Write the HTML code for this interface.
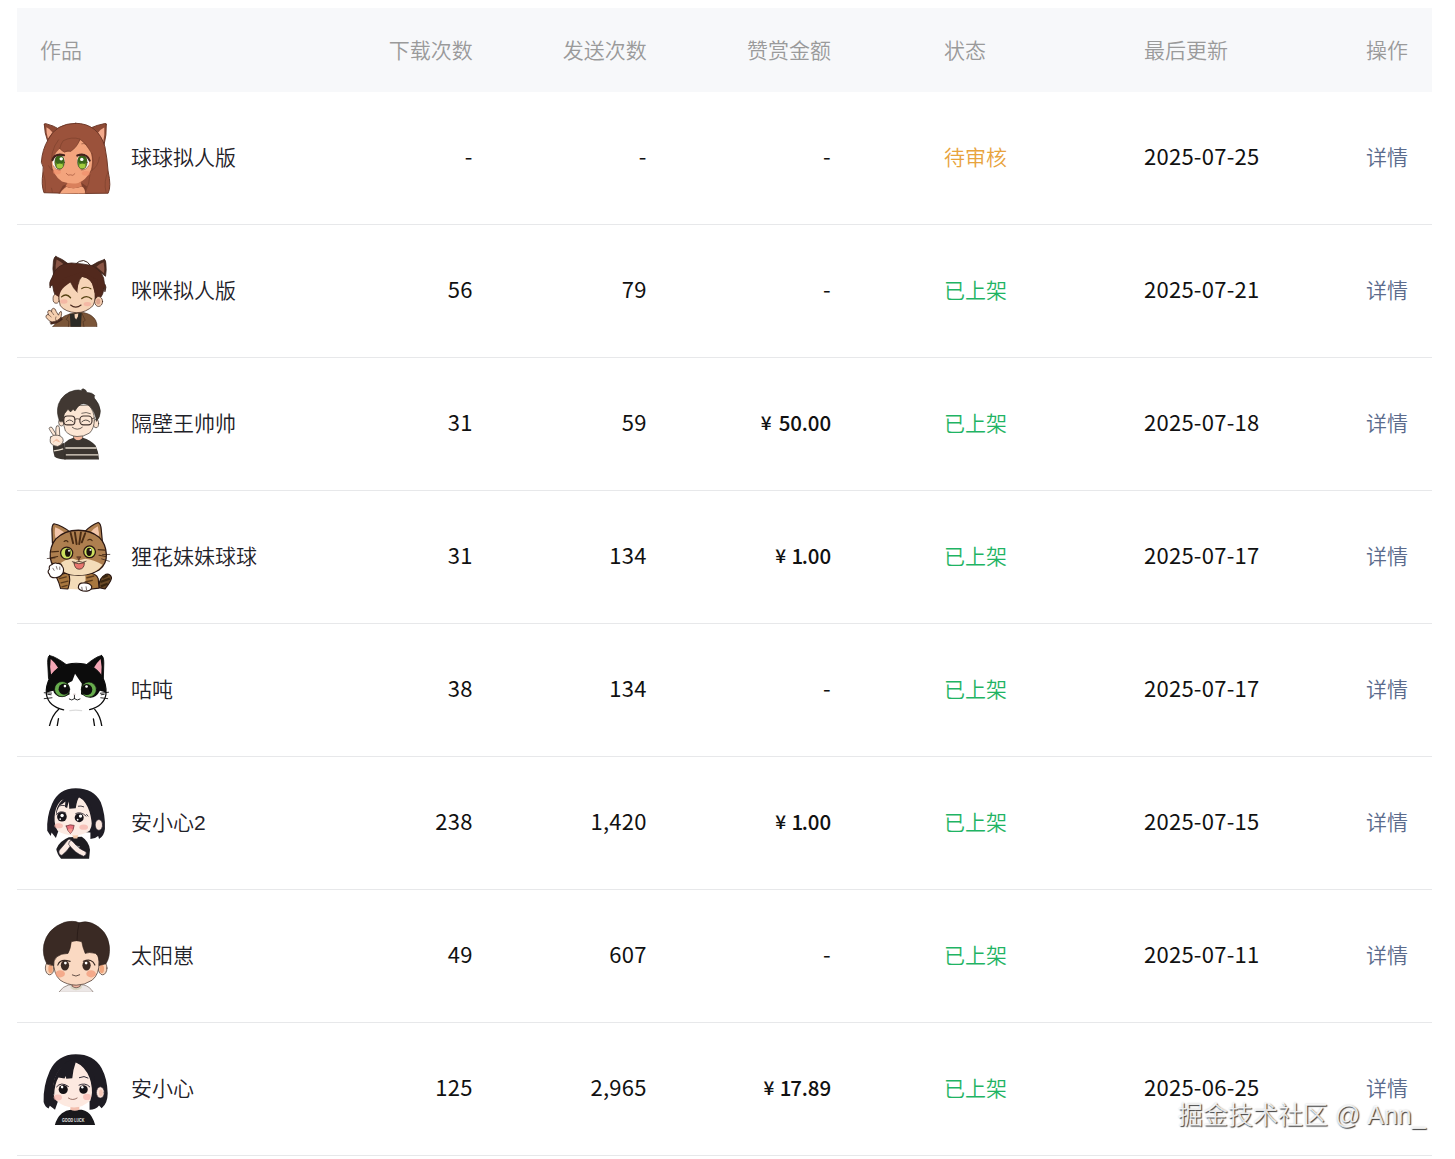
<!DOCTYPE html>
<html lang="zh-CN">
<head>
<meta charset="utf-8">
<title>作品列表</title>
<style>
html,body{margin:0;padding:0;background:#fff;}
body{width:1455px;height:1159px;overflow:hidden;position:relative;font-family:"Liberation Sans","Noto Sans CJK SC",sans-serif;font-size:21px;color:#1f2229;font-weight:350;}
.tbl{position:absolute;left:16.5px;top:8px;width:1415px;}
.hd{height:83.5px;background:#f7f8fa;position:relative;color:#9a9a9a;}
.row{height:132px;border-bottom:1px solid #e7e8ea;position:relative;}
.c{position:absolute;top:0;height:100%;display:flex;align-items:center;white-space:nowrap;}
.hd .c{padding-bottom:2px;box-sizing:border-box;}
.row .c{padding-bottom:4px;box-sizing:border-box;}
.row .num{padding-bottom:6px;}
.row .money{padding-bottom:4px;}
.row .c1{padding-bottom:0;}
.nm{position:relative;top:-2px;}
.c1{left:23.5px;}
.c2{right:958.8px;justify-content:flex-end;}
.c3{right:784.8px;justify-content:flex-end;}
.c4{right:600.5px;justify-content:flex-end;}
.c5{left:927.5px;}
.c6{left:1127.5px;}
.c7{right:23.5px;justify-content:flex-end;}
.av{width:72px;height:72px;display:block;flex:none;}
.nm{margin-left:19px;}
.num{font-family:"Noto Sans CJK SC","Liberation Sans",sans-serif;font-size:22px;letter-spacing:.25px;font-weight:400;color:#111;}
.money{font-weight:500;font-size:20.5px;letter-spacing:-.1px;}
.money i{font-style:normal;font-size:19px;margin-right:7px;letter-spacing:0;}
.money b{font-weight:inherit;margin:0 -1.2px 0 -1.6px;}
.ok{color:#1fb464;}
.wait{color:#e8a33d;}
.lk{color:#5b6b8c;}
.wm{position:absolute;left:1178px;top:1099px;font-size:25px;color:rgba(255,255,255,.85);text-shadow:1px 1px 1px rgba(0,0,0,.75),0 0 2px rgba(0,0,0,.2);white-space:nowrap;line-height:32px;}
</style>
</head>
<body>
<div class="tbl">
<div class="hd">
<div class="c c1">作品</div><div class="c c2">下载次数</div><div class="c c3">发送次数</div><div class="c c4">赞赏金额</div><div class="c c5">状态</div><div class="c c6">最后更新</div><div class="c c7">操作</div>
</div>
<div class="row"><div class="c c1"><svg class="av" viewBox="116 133 834 834"><g stroke-linejoin="round" stroke-linecap="round"><path d="M166 165 Q162 148 182 152 Q270 172 345 220 L205 355 Q168 260 166 165Z" fill="#8e4a35" stroke="#6a3626" stroke-width="11"/><path d="M190 195 Q235 215 262 255 L208 325 Q188 262 190 195Z" fill="#f3aa8c"/><path d="M884 165 Q890 146 866 151 Q775 168 695 205 L858 398 Q888 285 884 165Z" fill="#8e4a35" stroke="#6a3626" stroke-width="11"/><path d="M860 198 Q805 225 782 265 L848 368 Q866 282 860 198Z" fill="#f3aa8c"/><path d="M530 148 Q300 150 212 335 Q140 455 132 600 Q165 650 150 720 Q128 860 162 952 L560 962 L905 958 Q945 880 905 705 Q895 560 868 420 Q790 150 530 148Z" fill="#9b523b" stroke="#6a3626" stroke-width="11"/><path d="M345 962 Q390 890 480 850 L600 850 Q650 900 640 962Z" fill="#f4a780"/><path d="M330 962 L380 870 L460 840 L600 840 L660 880 L640 962 Q640 900 600 880 Q500 920 410 880 Q370 910 345 962Z" fill="#7d3f2c"/><path d="M410 878 Q500 925 600 878 L590 830 L440 830Z" fill="#d9805c"/><path d="M250 610 Q262 520 345 440 L400 482 L470 474 Q540 420 585 338 Q660 400 705 480 Q735 600 700 705 Q650 800 560 840 Q470 858 370 822 Q270 760 250 610Z" fill="#f3a47d"/><ellipse cx="312" cy="712" rx="46" ry="28" fill="#ee8a68" opacity=".55"/><ellipse cx="650" cy="728" rx="50" ry="28" fill="#ee8a68" opacity=".55"/><path d="M345 440 Q360 380 385 350 Q480 300 580 330 Q545 430 470 474 Q440 450 400 482 Q370 470 345 440Z" fill="#9b523b" stroke="#7a3f2c" stroke-width="7"/><path d="M585 338 Q640 360 715 500 M600 385 Q625 375 650 392" fill="none" stroke="#7a3f2c" stroke-width="7"/><path d="M250 690 Q225 470 330 340 M215 640 Q235 690 265 690" fill="none" stroke="#7a3f2c" stroke-width="7"/><path d="M700 705 Q790 660 805 540 M720 500 Q745 600 720 690" fill="none" stroke="#7a3f2c" stroke-width="7"/><ellipse cx="332" cy="592" rx="70" ry="92" fill="#fff"/><ellipse cx="615" cy="592" rx="70" ry="92" fill="#fff"/><ellipse cx="343" cy="600" rx="55" ry="80" fill="#5f9426" stroke="#3d2a14" stroke-width="7"/><ellipse cx="606" cy="600" rx="55" ry="80" fill="#5f9426" stroke="#3d2a14" stroke-width="7"/><ellipse cx="343" cy="572" rx="52" ry="50" fill="#3a661b"/><ellipse cx="606" cy="572" rx="52" ry="50" fill="#3a661b"/><ellipse cx="345" cy="642" rx="36" ry="28" fill="#a3cb3f"/><ellipse cx="606" cy="642" rx="36" ry="28" fill="#a3cb3f"/><circle cx="362" cy="560" r="20" fill="#fff"/><circle cx="600" cy="566" r="20" fill="#fff"/><path d="M260 575 Q285 490 395 518" fill="none" stroke="#45201a" stroke-width="24"/><path d="M548 522 Q650 485 692 580" fill="none" stroke="#45201a" stroke-width="24"/><path d="M272 640 Q300 690 350 690 M595 690 Q650 690 680 640" fill="none" stroke="#7a3f2c" stroke-width="6"/><path d="M420 728 Q438 762 470 745 Q498 765 520 732" fill="none" stroke="#a1533a" stroke-width="8"/><path d="M150 720 Q190 800 175 945 M250 900 L260 950 M905 705 Q850 820 880 945 M700 710 Q690 850 640 955" fill="none" stroke="#7a3f2c" stroke-width="7"/></g></svg><span class="nm">球球拟人版</span></div><div class="c c2 num">-</div><div class="c c3 num">-</div><div class="c c4 num ">-</div><div class="c c5 wait">待审核</div><div class="c c6 num">2025-07-25</div><div class="c c7 lk">详情</div></div>
<div class="row"><div class="c c1"><svg class="av" viewBox="116 133 834 834"><g stroke-linejoin="round" stroke-linecap="round"><path d="M525 240 Q570 195 620 197 Q670 205 700 255" fill="none" stroke="#2e1a12" stroke-width="11"/><path d="M300 150 Q280 150 272 200 Q258 290 275 380 L450 240 Q380 180 300 150Z" fill="#4a2a1f" stroke="#3a2118" stroke-width="9"/><path d="M308 185 Q290 260 300 335 L400 250 Q360 210 308 185Z" fill="#8a5646"/><path d="M862 185 Q880 190 880 240 Q888 310 875 380 L715 255 Q790 205 862 185Z" fill="#4a2a1f" stroke="#3a2118" stroke-width="9"/><path d="M852 218 Q868 290 858 345 L770 268 Q810 235 852 218Z" fill="#8a5646"/><path d="M232 510 Q215 450 255 395 Q300 230 480 225 Q600 232 720 255 Q860 330 862 460 Q895 500 868 560 L860 510 Q850 600 800 650 L300 620 Q270 560 262 480 Q240 480 232 510Z" fill="#52291d" stroke="#3a2118" stroke-width="9"/><ellipse cx="303" cy="640" rx="36" ry="52" fill="#f3cdb0" stroke="#3a2118" stroke-width="8"/><ellipse cx="795" cy="672" rx="46" ry="58" fill="#f3cdb0" stroke="#3a2118" stroke-width="8"/><ellipse cx="790" cy="672" rx="24" ry="34" fill="#dca48e"/><path d="M335 560 Q330 480 420 440 L600 380 Q720 400 745 520 Q770 640 730 720 Q650 800 540 802 Q410 795 350 720 Q330 650 335 560Z" fill="#f6d4b7" stroke="#3a2118" stroke-width="8"/><ellipse cx="392" cy="672" rx="42" ry="26" fill="#f3ac9c" opacity=".7"/><ellipse cx="665" cy="702" rx="44" ry="26" fill="#f3ac9c" opacity=".7"/><path d="M300 600 Q300 480 400 400 L600 330 L780 420 Q800 560 770 640 Q740 540 720 470 Q700 400 600 385 Q565 420 560 470 L548 565 Q500 520 470 450 Q440 470 400 500 Q350 540 335 620Z" fill="#52291d"/><path d="M548 565 Q500 520 470 450 M560 470 Q565 420 600 385" fill="none" stroke="#3a2118" stroke-width="7"/><path d="M365 618 Q418 570 470 628" fill="none" stroke="#574414" stroke-width="15"/><path d="M600 638 Q655 590 715 642" fill="none" stroke="#574414" stroke-width="15"/><path d="M600 522 Q650 490 705 525" fill="none" stroke="#574414" stroke-width="13"/><path d="M470 712 Q530 762 592 712" fill="none" stroke="#4a2a1f" stroke-width="12"/><path d="M262 965 Q330 880 400 840 Q460 810 520 805 L620 800 Q720 820 760 890 Q780 930 775 965Z" fill="#7a5538" stroke="#4a2f1e" stroke-width="8"/><path d="M462 815 L470 965 L590 965 L600 805Z" fill="#2b2a25"/><path d="M515 820 L520 860 L535 880 L555 845 L560 812Z" fill="#f6d4b7"/><path d="M462 815 L420 880 L450 900 L445 965 M600 805 L640 890 L615 905 L625 965" fill="none" stroke="#4a2f1e" stroke-width="7"/><path d="M245 935 Q320 930 375 880 L360 850 Q300 900 235 905Z" fill="#4a2a1f" stroke="#3a2118" stroke-width="7"/><path d="M250 910 Q180 870 185 840 Q195 815 215 825 Q195 790 215 775 Q235 768 250 790 Q245 755 270 750 Q295 750 305 790 L330 830 Q340 790 360 785 Q372 800 360 850 Q330 900 250 910Z" fill="#f6d0b0" stroke="#3a2118" stroke-width="8"/><path d="M215 825 L245 850 M250 790 L275 825 M300 850 Q290 870 300 890" fill="none" stroke="#3a2118" stroke-width="6"/></g></svg><span class="nm">咪咪拟人版</span></div><div class="c c2 num">56</div><div class="c c3 num">79</div><div class="c c4 num ">-</div><div class="c c5 ok">已上架</div><div class="c c6 num">2025-07-21</div><div class="c c7 lk">详情</div></div>
<div class="row"><div class="c c1"><svg class="av" viewBox="116 133 834 834"><g stroke-linejoin="round" stroke-linecap="round"><ellipse cx="362" cy="528" rx="30" ry="45" fill="#fbe3d0" stroke="#3b3530" stroke-width="8"/><ellipse cx="765" cy="545" rx="30" ry="48" fill="#fbe3d0" stroke="#3b3530" stroke-width="8"/><path d="M505 680 L505 730 Q555 760 610 730 L610 680Z" fill="#f4b79d" stroke="#3b3530" stroke-width="7"/><path d="M385 480 Q380 380 470 340 L680 330 Q745 400 745 500 Q745 600 690 655 Q620 700 545 695 Q460 690 410 630 Q385 570 385 480Z" fill="#fce6d4" stroke="#3b3530" stroke-width="8"/><path d="M345 520 Q300 420 330 320 Q380 190 520 160 Q570 150 600 165 Q590 148 615 142 Q650 150 660 185 Q720 185 750 220 Q740 235 745 250 Q810 320 815 400 Q815 470 770 520 Q760 420 700 350 Q650 300 590 320 Q545 350 520 400 L500 380 L470 410 L440 380 L400 430 Q380 470 385 520Z" fill="#413832" stroke="#2e2925" stroke-width="7"/><rect x="392" y="458" width="128" height="102" rx="40" fill="none" stroke="#3e302b" stroke-width="13"/><rect x="578" y="458" width="140" height="102" rx="42" fill="none" stroke="#3e302b" stroke-width="13"/><path d="M520 495 Q548 480 578 495 M392 490 L372 485 M718 490 L745 480" fill="none" stroke="#4a3b35" stroke-width="10"/><path d="M418 525 Q458 480 500 525 M600 525 Q648 480 692 525" fill="none" stroke="#3b3530" stroke-width="10"/><path d="M600 425 Q650 405 700 430" fill="none" stroke="#3b3530" stroke-width="8"/><path d="M490 588 Q548 635 606 588" fill="none" stroke="#3b3530" stroke-width="9"/><path d="M400 960 L398 770 Q450 720 505 708 Q555 770 612 708 Q700 730 760 800 Q795 870 800 960Z" fill="#3b3530"/><path d="M265 800 L395 770 L410 960 Q330 960 285 930 Q262 870 265 800Z" fill="#3b3530"/><path d="M275 862 Q330 855 385 838 M410 828 L770 828 M415 908 L790 908" fill="none" stroke="#e6dccd" stroke-width="16" stroke-linecap="butt"/><path d="M395 780 L405 955" fill="none" stroke="#2a2522" stroke-width="6"/><path d="M285 700 Q225 620 222 600 Q230 575 255 590 L300 665Z" fill="#fce6d4" stroke="#3b3530" stroke-width="8"/><path d="M300 680 Q295 590 310 572 Q335 560 340 590 L345 690Z" fill="#fce6d4" stroke="#3b3530" stroke-width="8"/><path d="M240 700 Q270 670 320 680 Q380 690 385 740 Q380 790 320 810 Q250 800 235 760 Q230 730 240 700Z" fill="#fce6d4" stroke="#3b3530" stroke-width="8"/><path d="M270 760 L310 725 L345 760 M300 740 L330 750" fill="none" stroke="#e8916a" stroke-width="6"/></g></svg><span class="nm">隔壁王帅帅</span></div><div class="c c2 num">31</div><div class="c c3 num">59</div><div class="c c4 num money"><i>¥</i>50.00</div><div class="c c5 ok">已上架</div><div class="c c6 num">2025-07-18</div><div class="c c7 lk">详情</div></div>
<div class="row"><div class="c c1"><svg class="av" viewBox="116 133 834 834"><g stroke-linejoin="round" stroke-linecap="round" stroke="#2a1712"><path d="M800 905 Q790 800 880 750 Q930 740 945 790 Q940 830 870 920Z" fill="#6a4a26" stroke-width="13"/><path d="M840 790 L900 760 M815 840 L925 800 M820 890 L900 860" fill="none" stroke="#3a2610" stroke-width="26" stroke-linecap="butt"/><path d="M620 740 Q760 720 790 800 L800 910 L640 930Z" fill="#a8773f" stroke-width="13"/><path d="M460 740 L640 740 L650 930 L440 920Z" fill="#f3dcb8" stroke="none"/><path d="M660 790 L740 770 M640 840 L720 820" fill="none" stroke="#5a3a1c" stroke-width="16"/><path d="M300 770 L440 730 Q480 800 440 920 L355 915 Q340 850 300 770Z" fill="#a8773f" stroke-width="13"/><path d="M340 800 L420 780 M360 850 L440 830 M370 895 L430 880" fill="none" stroke="#5a3a1c" stroke-width="15"/><path d="M278 165 Q250 180 255 260 L260 390 L465 262 Q380 190 278 165Z" fill="#b08050" stroke-width="14"/><path d="M292 205 Q280 290 300 340 L395 262 Q350 225 292 205Z" fill="#f4c6aa" stroke="none"/><path d="M790 150 Q820 160 825 230 L840 385 L640 250 Q710 180 790 150Z" fill="#b08050" stroke-width="14"/><path d="M785 195 Q805 270 795 335 L705 262 Q745 215 785 195Z" fill="#f4c6aa" stroke="none"/><path d="M560 240 Q400 240 300 340 Q225 430 235 560 Q250 680 380 730 Q470 760 560 760 Q700 760 800 700 Q890 630 885 520 Q880 400 800 320 Q700 240 560 240Z" fill="#ae7f4f" stroke-width="15"/><path d="M330 640 Q420 560 500 570 L560 590 L640 570 Q740 580 840 640 Q780 730 650 752 Q560 765 470 752 Q370 730 330 640Z" fill="#f3dcb8" stroke="none"/><path d="M470 270 L500 390 M520 265 L540 400 M590 265 L570 400 M640 275 L600 380" fill="none" stroke="#4a2c14" stroke-width="22"/><path d="M250 490 L330 485 M245 560 L320 545 M790 465 L870 470 M800 530 L880 545 M395 370 Q420 350 440 375 M670 355 Q695 335 720 360" fill="none" stroke="#4a2c14" stroke-width="13"/><path d="M200 568 L290 560 M840 522 L925 520 M830 572 L920 600" fill="none" stroke-width="8"/><circle cx="425" cy="505" r="70" fill="#cde05e" stroke-width="15"/><circle cx="690" cy="490" r="68" fill="#cde05e" stroke-width="15"/><ellipse cx="438" cy="500" rx="32" ry="48" fill="#1a120c" stroke="none"/><ellipse cx="685" cy="490" rx="32" ry="48" fill="#1a120c" stroke="none"/><circle cx="452" cy="478" r="11" fill="#fff" stroke="none"/><circle cx="700" cy="468" r="11" fill="#fff" stroke="none"/><path d="M545 548 L590 548 L567 575Z" fill="#7a4a32" stroke-width="6"/><path d="M567 575 L567 600 M490 605 Q530 625 567 600 Q610 625 650 600" fill="none" stroke-width="8"/><path d="M510 618 Q565 640 630 615 Q630 690 570 692 Q515 690 510 618Z" fill="#e8766e" stroke-width="8"/><path d="M250 640 Q215 650 225 690 Q195 720 225 750 Q235 790 290 790 Q350 790 380 740 Q400 690 375 660 Q360 620 320 625 Q280 610 250 640Z" fill="#fff" stroke-width="13"/><path d="M265 680 L280 705 M305 660 L315 690 M345 665 L345 695" fill="none" stroke-width="7"/><path d="M560 905 Q560 850 620 850 Q690 845 715 890 Q720 935 660 945 Q580 950 560 905Z" fill="#fff" stroke-width="13"/><path d="M600 900 L605 930 M650 895 L655 930" fill="none" stroke-width="7"/></g></svg><span class="nm">狸花妹妹球球</span></div><div class="c c2 num">31</div><div class="c c3 num">134</div><div class="c c4 num money"><i>¥</i><b>1</b>.00</div><div class="c c5 ok">已上架</div><div class="c c6 num">2025-07-17</div><div class="c c7 lk">详情</div></div>
<div class="row"><div class="c c1"><svg class="av" viewBox="116 133 834 834"><defs><clipPath id="hd5"><path d="M535 240 Q330 240 235 400 Q180 500 190 600 Q215 740 390 780 Q540 800 690 778 Q860 730 880 600 Q890 480 830 390 Q740 240 535 240Z"/></clipPath></defs><g stroke-linejoin="round" stroke-linecap="round" stroke="#0c0c0c"><path d="M330 775 Q255 840 225 968 M750 775 Q815 850 832 968 M330 882 L315 968 M735 885 L748 968" fill="none" stroke-width="15"/><path d="M225 150 Q205 160 205 230 L215 420 L420 255 Q300 165 225 150Z" fill="#0c0c0c" stroke-width="10"/><path d="M240 190 Q225 280 245 372 L325 292 Q290 230 240 190Z" fill="#f5a7b6" stroke="none"/><path d="M830 150 Q855 160 855 235 L850 420 L655 255 Q760 165 830 150Z" fill="#0c0c0c" stroke-width="10"/><path d="M818 190 Q838 280 825 380 L742 290 Q775 230 818 190Z" fill="#f5a7b6" stroke="none"/><path d="M535 240 Q330 240 235 400 Q180 500 190 600 Q215 740 390 780 Q540 800 690 778 Q860 730 880 600 Q890 480 830 390 Q740 240 535 240Z" fill="#fff" stroke="none"/><g clip-path="url(#hd5)" stroke="none"><path d="M150 200 L920 200 L920 590 L810 560 Q770 640 700 640 L590 600 L600 475 Q560 420 522 362 Q505 410 490 445 L440 472 L460 600 Q400 640 330 625 Q280 600 270 560 L150 590Z" fill="#0c0c0c"/></g><path d="M462 790 Q530 778 598 790" fill="none" stroke="#dcdcdc" stroke-width="14"/><path d="M535 240 Q330 240 235 400 Q180 500 190 600 Q215 740 390 780 M690 778 Q860 730 880 600 Q890 480 830 390 Q740 240 535 240" fill="none" stroke-width="14"/><circle cx="372" cy="540" r="88" fill="#67ad4d" stroke="#0c0c0c" stroke-width="8"/><circle cx="682" cy="545" r="88" fill="#67ad4d" stroke="#0c0c0c" stroke-width="8"/><circle cx="395" cy="540" r="64" fill="#0c0c0c" stroke="none"/><circle cx="658" cy="545" r="64" fill="#0c0c0c" stroke="none"/><circle cx="405" cy="505" r="15" fill="#fff" stroke="none"/><circle cx="655" cy="510" r="15" fill="#fff" stroke="none"/><path d="M515 605 L515 650 M455 655 Q485 680 515 650 Q548 680 580 655" fill="none" stroke-width="10"/><path d="M495 595 Q515 585 535 595 L515 612Z" fill="#d8c8c8" stroke="none"/><path d="M165 582 L250 586 M165 650 L255 640 M815 588 L910 576 M820 640 L900 650 M205 600 L245 605 M825 605 L860 600" fill="none" stroke-width="10"/></g></svg><span class="nm">咕吨</span></div><div class="c c2 num">38</div><div class="c c3 num">134</div><div class="c c4 num ">-</div><div class="c c5 ok">已上架</div><div class="c c6 num">2025-07-17</div><div class="c c7 lk">详情</div></div>
<div class="row"><div class="c c1"><svg class="av" viewBox="116 133 834 834"><g stroke-linejoin="round" stroke-linecap="round"><path d="M530 148 Q330 150 255 330 Q190 480 200 640 L240 700 L250 660 L300 725 L330 640 L700 660 L700 735 Q760 730 790 700 L800 735 Q860 700 868 620 Q875 450 820 310 Q740 150 530 148Z" fill="#1f1d25"/><path d="M360 965 Q310 900 305 850 Q340 760 450 715 L600 710 Q680 760 695 860 L685 965Z" fill="#1d1c20"/><path d="M490 690 L560 690 L548 730 L505 730Z" fill="#f3c9a8"/><ellipse cx="798" cy="572" rx="42" ry="62" fill="#fbe6dc" stroke="#2a2530" stroke-width="7"/><path d="M285 480 Q290 360 360 290 Q450 240 560 250 Q690 300 715 430 Q735 560 690 640 Q600 700 500 695 Q390 690 320 640 Q280 580 285 480Z" fill="#fcebe3"/><ellipse cx="332" cy="582" rx="50" ry="30" fill="#f5b1a6" opacity=".7"/><ellipse cx="622" cy="598" rx="50" ry="30" fill="#f5b1a6" opacity=".7"/><path d="M300 470 Q300 360 360 300 L400 260 L430 230 L540 220 L620 250 L700 330 L740 470 L760 640 L720 650 Q720 520 690 420 Q650 300 570 250 Q545 280 530 380 L455 385 L450 300 Q440 330 430 375 L405 365 L410 300 Q380 330 345 345 Q310 400 300 470Z" fill="#1f1d25"/><circle cx="370" cy="478" r="56" fill="#17141a"/><circle cx="570" cy="488" r="52" fill="#17141a"/><circle cx="372" cy="462" r="20" fill="#fff"/><circle cx="585" cy="470" r="19" fill="#fff"/><circle cx="350" cy="505" r="10" fill="#fff"/><circle cx="552" cy="512" r="10" fill="#fff"/><path d="M310 450 Q340 400 410 430 M530 440 Q590 410 650 470 M340 352 Q370 340 400 348 M560 355 Q590 348 622 362 M655 450 L672 470" fill="none" stroke="#2a2530" stroke-width="10"/><path d="M420 585 Q465 560 512 578 Q505 640 468 672 Q430 640 420 585Z" fill="#e9707c" stroke="#5a2a30" stroke-width="8"/><path d="M440 625 Q468 600 495 625 Q485 655 468 668 Q450 655 440 625Z" fill="#f29a8e"/><path d="M335 870 Q400 800 440 745 Q455 730 470 745 Q490 770 480 800 Q430 880 370 925 Q330 920 335 870Z" fill="#fcebe3" stroke="#2a2530" stroke-width="7"/><path d="M460 760 Q480 740 500 770 Q560 850 650 885 Q660 920 620 935 Q520 900 450 800Z" fill="#fcebe3" stroke="#2a2530" stroke-width="7"/><path d="M510 830 Q540 805 575 825 Q560 850 530 845" fill="none" stroke="#e8e8e8" stroke-width="6"/></g></svg><span class="nm">安小心2</span></div><div class="c c2 num">238</div><div class="c c3 num">1,420</div><div class="c c4 num money"><i>¥</i><b>1</b>.00</div><div class="c c5 ok">已上架</div><div class="c c6 num">2025-07-15</div><div class="c c7 lk">详情</div></div>
<div class="row"><div class="c c1"><svg class="av" viewBox="116 133 834 834"><g stroke-linejoin="round" stroke-linecap="round"><path d="M335 968 Q380 900 450 885 L620 885 Q690 900 732 968Z" fill="#ece7e6" stroke="#6a5a52" stroke-width="7"/><path d="M470 890 Q530 950 600 890 L600 920 Q530 975 470 920Z" fill="#d9d6c2"/><path d="M488 860 L488 900 Q535 935 582 900 L582 860Z" fill="#f2b5a0" stroke="#3a2a24" stroke-width="7"/><ellipse cx="228" cy="690" rx="50" ry="78" fill="#f9d5bb" stroke="#3a2a24" stroke-width="8"/><ellipse cx="842" cy="690" rx="50" ry="78" fill="#f9d5bb" stroke="#3a2a24" stroke-width="8"/><ellipse cx="238" cy="700" rx="26" ry="48" fill="#f0a57c"/><ellipse cx="832" cy="700" rx="26" ry="48" fill="#f0a57c"/><path d="M272 600 Q275 450 400 370 L680 370 Q800 460 800 620 Q805 760 720 830 Q630 890 535 888 Q430 885 350 830 Q270 760 272 600Z" fill="#fad9c2" stroke="#3a2a24" stroke-width="8"/><ellipse cx="350" cy="756" rx="55" ry="42" fill="#f19a78" opacity=".75"/><ellipse cx="708" cy="756" rx="55" ry="42" fill="#f19a78" opacity=".75"/><path d="M195 640 Q140 540 160 420 Q200 230 400 160 Q500 135 570 165 Q640 140 720 170 Q900 250 920 440 Q930 560 880 640 L800 660 Q810 560 760 520 Q680 500 640 520 Q610 450 600 385 Q540 360 478 385 Q470 470 440 520 Q360 520 310 560 Q270 600 272 660Z" fill="#3a2a24" stroke="#2a1d18" stroke-width="7"/><path d="M570 165 Q545 260 545 370" fill="none" stroke="#241814" stroke-width="8"/><ellipse cx="405" cy="658" rx="48" ry="60" fill="#3a2a24"/><ellipse cx="655" cy="658" rx="48" ry="60" fill="#3a2a24"/><circle cx="410" cy="632" r="16" fill="#fff"/><circle cx="650" cy="632" r="16" fill="#fff"/><path d="M322 655 Q350 575 465 612 M618 610 Q720 570 752 655" fill="none" stroke="#3a2a24" stroke-width="13"/><path d="M490 770 Q532 798 576 768" fill="none" stroke="#3a2a24" stroke-width="9"/></g></svg><span class="nm">太阳崽</span></div><div class="c c2 num">49</div><div class="c c3 num">607</div><div class="c c4 num ">-</div><div class="c c5 ok">已上架</div><div class="c c6 num">2025-07-11</div><div class="c c7 lk">详情</div></div>
<div class="row"><div class="c c1"><svg class="av" viewBox="116 133 834 834"><g stroke-linejoin="round" stroke-linecap="round"><path d="M530 148 Q320 150 230 340 Q150 520 158 700 Q175 760 215 775 L230 745 L290 790 L325 690 L690 690 L690 790 Q760 790 800 740 L830 772 Q900 720 900 600 Q895 430 830 310 Q740 148 530 148Z" fill="#1e1c23"/><path d="M288 968 Q310 880 370 830 Q420 795 470 790 L600 790 Q680 810 715 870 Q745 920 755 968Z" fill="#19181c"/><path d="M468 740 L468 790 Q520 815 572 790 L572 740Z" fill="#f3bfae"/><ellipse cx="815" cy="590" rx="45" ry="65" fill="#fce4da" stroke="#2a2530" stroke-width="7"/><ellipse cx="822" cy="595" rx="22" ry="40" fill="#f3c6b6"/><path d="M268 560 Q270 420 340 330 Q420 250 530 240 Q670 290 710 440 Q735 580 700 680 Q620 760 510 765 Q390 760 310 690 Q268 640 268 560Z" fill="#fde9e0"/><ellipse cx="322" cy="648" rx="48" ry="34" fill="#f6b3ad" opacity=".7"/><ellipse cx="660" cy="642" rx="46" ry="36" fill="#f6b3ad" opacity=".7"/><path d="M262 600 Q260 420 340 320 L430 230 L540 215 L640 240 L740 380 L770 700 L715 700 Q730 520 690 420 Q640 290 530 240 Q500 320 490 425 L420 430 L415 400 L400 428 L330 418 Q285 490 280 620Z" fill="#1e1c23"/><circle cx="385" cy="556" r="53" fill="#151317"/><circle cx="620" cy="556" r="49" fill="#151317"/><circle cx="372" cy="528" r="15" fill="#fff"/><circle cx="606" cy="530" r="14" fill="#fff"/><path d="M308 525 Q360 460 445 520 M568 505 Q640 470 692 525 M572 418 Q630 390 672 422" fill="none" stroke="#2a2530" stroke-width="11"/><path d="M445 655 Q495 690 546 655" fill="none" stroke="#6a3a30" stroke-width="8"/><text opacity=".97" x="500" y="935" font-family="Liberation Sans, sans-serif" font-weight="bold" font-size="52" fill="#f2f2f2" text-anchor="middle" textLength="260" lengthAdjust="spacingAndGlyphs">GOOD LUCK</text></g></svg><span class="nm">安小心</span></div><div class="c c2 num">125</div><div class="c c3 num">2,965</div><div class="c c4 num money"><i>¥</i><b>1</b>7.89</div><div class="c c5 ok">已上架</div><div class="c c6 num">2025-06-25</div><div class="c c7 lk">详情</div></div>
</div>
<div class="wm">掘金技术社区 @ Ann_</div>
</body>
</html>
